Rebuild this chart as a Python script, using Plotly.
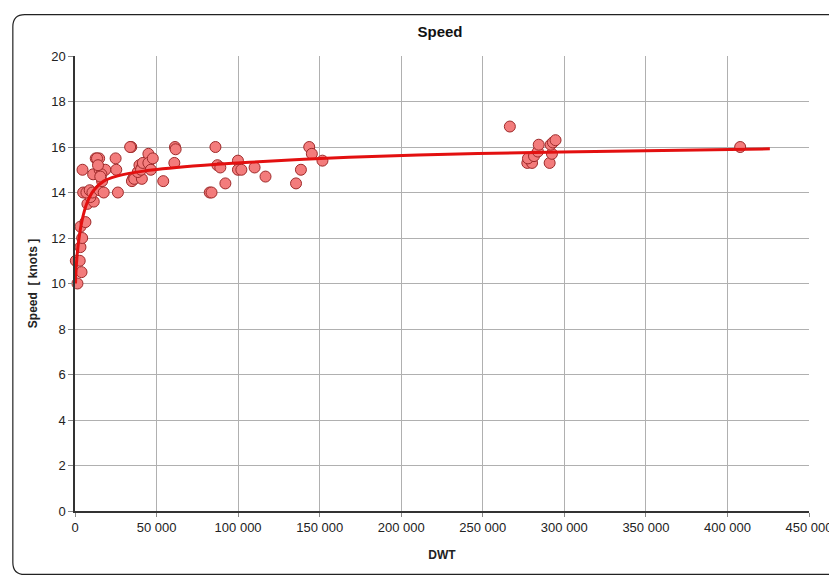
import plotly.graph_objects as go

# Scatter data (DWT, speed in knots)
dwt = [1500, 4000, 500, 2900, 3350, 4400, 3350, 6400, 7600, 11500, 9450, 5000, 7000, 9000,
       10700, 15100, 17600, 26300, 4600, 11100, 12700, 14800, 15100, 18600, 16200, 16600,
       24900, 25300, 34500, 35500, 13500, 14100, 15500, 33800, 34900, 36300, 41000, 38500,
       39500, 41000, 40500, 41600, 45000, 45000, 46500, 47700, 54100, 61300, 61700, 60900,
       86100, 82600, 83700, 87300, 89100, 92200, 99900, 99900, 102000, 110100, 116800,
       135500, 138500, 143600, 145200, 151700,
       266600, 277300, 280200, 277700, 281400, 283800, 284300, 291000, 292400, 291600,
       293000, 294600, 407800]
speed = [10.0, 10.5, 11.0, 11.0, 11.6, 12.0, 12.5, 12.7, 13.5, 13.6, 13.8, 14.0, 14.0, 14.1,
         14.0, 14.1, 14.0, 14.0, 15.0, 14.8, 15.5, 15.5, 15.0, 15.0, 14.8, 14.5,
         15.5, 15.0, 16.0, 14.6, 15.5, 15.2, 14.7, 16.0, 14.5, 14.6, 14.6, 14.9,
         15.2, 15.1, 15.0, 15.3, 15.7, 15.3, 15.0, 15.5, 14.5, 16.0, 15.9, 15.3,
         16.0, 14.0, 14.0, 15.2, 15.1, 14.4, 15.4, 15.0, 15.0, 15.1, 14.7,
         14.4, 15.0, 16.0, 15.7, 15.4,
         16.9, 15.3, 15.3, 15.5, 15.6, 15.8, 16.1, 15.3, 15.7, 16.1,
         16.2, 16.3, 16.0]

# Trend line
trend_x = [300, 900, 2300, 4400, 7400, 11500, 17600, 25700, 42000, 72400, 107000,
           168000, 247000, 350000, 426000]
trend_y = [10.0, 10.9, 11.9, 12.8, 13.55, 14.1, 14.5, 14.72, 14.94, 15.16, 15.33,
           15.55, 15.71, 15.84, 15.92]

x_ticks = [0, 50000, 100000, 150000, 200000, 250000, 300000, 350000, 400000, 450000]
x_labels = ["0", "50 000", "100 000", "150 000", "200 000", "250 000", "300 000",
            "350 000", "400 000", "450 000"]
y_ticks = [0, 2, 4, 6, 8, 10, 12, 14, 16, 18, 20]

W, H = 837, 577
OFF = 8  # page body margin
L, T = 74.5 - OFF, 56.3 - OFF
pw, ph = 738.0, 455.2
R = W - L - pw
B = H - T - ph

def px(x):  # page x -> paper
    return (x - OFF - L) / pw

def py(y):  # page y -> paper
    return (H - B - (y - OFF)) / ph

fig = go.Figure()
fig.add_trace(go.Scatter(
    x=dwt, y=speed, mode="markers",
    marker=dict(size=11, color="#f37c7c", line=dict(color="#9e2a2a", width=1)),
    showlegend=False, cliponaxis=False))
fig.add_trace(go.Scatter(
    x=trend_x, y=trend_y, mode="lines",
    line=dict(color="#e31010", width=3, shape="spline", smoothing=0.8),
    showlegend=False))

# rounded outer frame
x0, x1, y0, y1 = px(12), px(860), py(15), py(575)
rx = 12 / pw
ry = 12 / ph
path = (f"M {x1},{y0} L {x0+rx},{y0} Q {x0},{y0} {x0},{y0-ry} "
        f"L {x0},{y1+ry} Q {x0},{y1} {x0+rx},{y1} L {x1},{y1}")
fig.add_shape(type="path", path=path, xref="paper", yref="paper",
              line=dict(color="#222222", width=1.2), layer="below")

font = "Liberation Sans, Arial, sans-serif"
fig.update_layout(
    width=W, height=H,
    margin=dict(l=L, r=R, t=T, b=B),
    paper_bgcolor="white", plot_bgcolor="white",
    font=dict(family=font, size=13, color="#222222"),
    title=dict(text="<b>Speed</b>", x=(440 - OFF) / W, xanchor="center",
               y=1 - (32 - OFF) / H, yanchor="middle",
               font=dict(size=15, family=font, color="#111111")),
    xaxis=dict(range=[0, 450000], tickvals=x_ticks, ticktext=x_labels,
               showgrid=True, gridcolor="#b0b0b0", gridwidth=1,
               showline=True, linecolor="#333333", linewidth=1.5,
               ticks="outside", ticklen=4, tickcolor="#888888",
               zeroline=False, tickfont=dict(size=13),
               title=dict(text="<b>DWT</b>", font=dict(size=12, family=font), standoff=16)),
    yaxis=dict(range=[0, 20], tickvals=y_ticks,
               showgrid=True, gridcolor="#b0b0b0", gridwidth=1,
               showline=True, linecolor="#333333", linewidth=1.5,
               ticks="outside", ticklen=5, tickcolor="#888888",
               zeroline=False, tickfont=dict(size=13),
               title=dict(text="<b>Speed  [ knots ]</b>", font=dict(size=12, family=font), standoff=11)),
)

fig.write_html("out.html")
